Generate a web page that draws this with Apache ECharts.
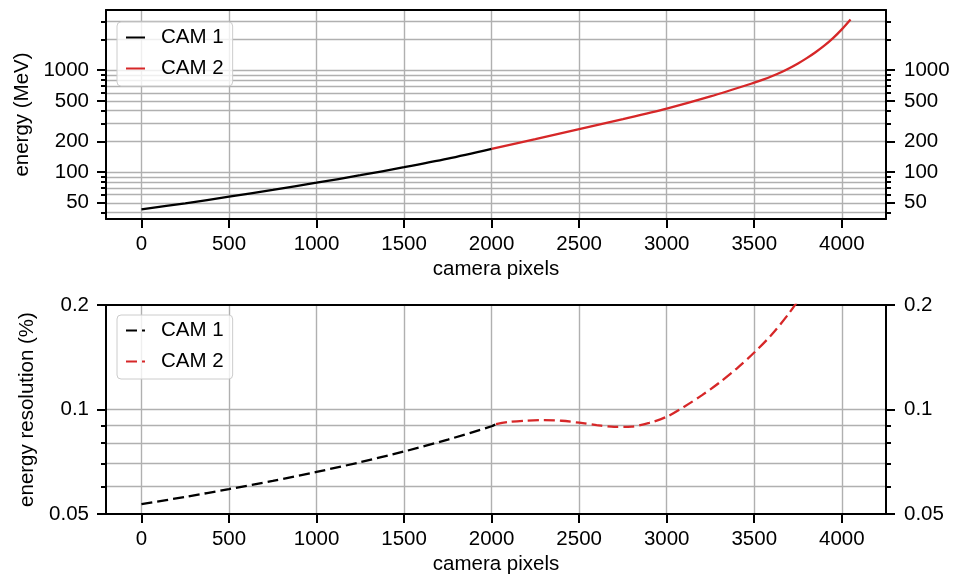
<!DOCTYPE html>
<html><head><meta charset="utf-8">
<script src="https://cdn.jsdelivr.net/npm/echarts@6/dist/echarts.min.js"></script>
<style>html,body{margin:0;padding:0;background:#fff}#c{width:957px;height:583px}</style>
</head><body><div id="c"></div>
<script>
// ---- tick values ----
const xTicks = [0, 500, 1000, 1500, 2000, 2500, 3000, 3500, 4000];
const energyMajor = [50, 100, 200, 500, 1000];
const energyMinor = [40, 60, 70, 80, 90, 300, 400, 600, 700, 800, 900, 2000, 3000];
const energyGrid = [40, 50, 60, 70, 80, 90, 100, 200, 300, 400, 500, 600, 700, 800, 900, 1000, 2000, 3000];
const resMajor = [0.05, 0.1, 0.2];
const resMinor = [0.06, 0.07, 0.08, 0.09];
const resGrid = [0.06, 0.07, 0.08, 0.09, 0.1];

// ---- data ----
const cam1EnergyPx = [0, 250, 500, 750, 1000, 1250, 1500, 1750, 2000];
const cam1Energy   = [43.1, 49.5, 57.4, 67.0, 78.7, 93.3, 111.7, 135.5, 169];
const cam2EnergyPx = [2000, 2250, 2500, 2750, 3000, 3250, 3500, 3550, 3600, 3650, 3700, 3750, 3800, 3850, 3900, 3950, 4000, 4050];
const cam2Energy   = [169, 211, 264, 331, 420, 553, 753, 807, 871, 948, 1045, 1164, 1312, 1500, 1738, 2061, 2512, 3140];

const cam1ResPx = [0, 250, 500, 750, 1000, 1250, 1500, 1750, 2000, 2025];
const cam1Res   = [0.0534, 0.0560, 0.0590, 0.0623, 0.0661, 0.0705, 0.0757, 0.0819, 0.0895, 0.0908];
const cam2ResPx = [2025, 2100, 2200, 2300, 2400, 2500, 2600, 2700, 2800, 2900, 3000, 3100, 3200, 3300, 3400, 3500, 3600, 3700, 3800];
const cam2Res   = [0.0908, 0.0921, 0.0929, 0.0932, 0.0928, 0.0916, 0.0902, 0.0891, 0.0893, 0.0915, 0.0953, 0.1019, 0.1098, 0.1194, 0.1312, 0.1459, 0.1644, 0.1897, 0.2239];

const seriesNames = ['CAM 1', 'CAM 2'];

const FONT = '"Liberation Sans", Arial, Helvetica, sans-serif';
const FS = 20.5;
const BLACK = '#000000';
const RED = '#d62728';
const GRIDC = '#b0b0b0';
const SPINE = 2;
const LW = 2.3;
const DASH = [11, 5];
const zip = (a, b) => a.map((v, i) => [v, b[i]]);

const X_MIN = -202.5, X_MAX = 4252.5;
const E_MIN = 34.7, E_MAX = 3890;
const R_MIN = 0.05, R_MAX = 0.2;

function xAxes(g) {
  return [{
    gridIndex: g, type: 'value', min: X_MIN, max: X_MAX, position: 'bottom',
    axisLine: { show: true, onZero: false, lineStyle: { color: BLACK, width: SPINE } },
    axisTick: { show: true, customValues: xTicks, length: 9, lineStyle: { color: BLACK, width: SPINE } },
    axisLabel: { show: true, customValues: xTicks, fontSize: FS, fontFamily: FONT, color: BLACK, margin: 15,
                 formatter: v => String(v) },
    splitLine: { show: true, lineStyle: { color: GRIDC, width: 1.4 } },
    name: 'camera pixels', nameLocation: 'middle', nameGap: 40,
    nameTextStyle: { fontSize: FS, fontFamily: FONT, color: BLACK }
  }, {
    gridIndex: g, type: 'value', min: X_MIN, max: X_MAX, position: 'top',
    axisLine: { show: true, onZero: false, lineStyle: { color: BLACK, width: SPINE } },
    axisTick: { show: false }, axisLabel: { show: false }, splitLine: { show: false }
  }];
}

function yAxes(g, mn, mx, major, minor, gridVals, name, nameGap) {
  const base = { gridIndex: g, type: 'log', logBase: 10, min: mn, max: mx };
  const lbl = { fontSize: FS, fontFamily: FONT, color: BLACK, formatter: v => String(+(+v).toPrecision(6)) };
  return [
    Object.assign({}, base, {
      position: 'left',
      axisLine: { show: true, onZero: false, lineStyle: { color: BLACK, width: SPINE } },
      axisTick: { show: true, customValues: major, length: 9, lineStyle: { color: BLACK, width: SPINE } },
      axisLabel: Object.assign({ show: true, customValues: major, margin: 17 }, lbl),
      splitLine: { show: false },
      name: name, nameLocation: 'middle', nameGap: nameGap,
      nameTextStyle: { fontSize: FS, fontFamily: FONT, color: BLACK }
    }),
    Object.assign({}, base, {
      position: 'left',
      axisLine: { show: false, onZero: false },
      axisTick: { show: true, customValues: minor, length: 5, lineStyle: { color: BLACK, width: SPINE } },
      axisLabel: { show: false }, splitLine: { show: false }
    }),
    Object.assign({}, base, {
      position: 'right',
      axisLine: { show: true, onZero: false, lineStyle: { color: BLACK, width: SPINE } },
      axisTick: { show: true, customValues: major, length: 9, lineStyle: { color: BLACK, width: SPINE } },
      axisLabel: Object.assign({ show: true, customValues: major, margin: 18 }, lbl),
      splitLine: { show: false }
    }),
    Object.assign({}, base, {
      position: 'right',
      axisLine: { show: false, onZero: false },
      axisTick: { show: true, customValues: minor, length: 5, lineStyle: { color: BLACK, width: SPINE } },
      axisLabel: { show: false }, splitLine: { show: false }
    }),
    Object.assign({}, base, {
      position: 'left',
      axisLine: { show: false, onZero: false },
      axisTick: { show: false, customValues: gridVals },
      axisLabel: { show: false },
      splitLine: { show: true, lineStyle: { color: GRIDC, width: 1.4 } }
    })
  ];
}

function legend(top, names) {
  return {
    orient: 'vertical', left: 117, top: top,
    data: names,
    formatter: n => n.replace(' res', ''),
    padding: [5, 9, 7, 8], itemWidth: 19, itemHeight: 14, itemGap: 10,
    itemStyle: { opacity: 0, color: 'rgba(0,0,0,0)', borderWidth: 0 },
    backgroundColor: 'rgba(255,255,255,0.8)', borderColor: '#cccccc', borderWidth: 1, borderRadius: 4,
    textStyle: { fontSize: FS, fontFamily: FONT, color: BLACK, lineHeight: 21, padding: [0, 0, 0, 11] }
  };
}

const chart = echarts.init(document.getElementById('c'), null, { renderer: 'canvas' });
chart.setOption({
  animation: false,
  backgroundColor: '#ffffff',
  grid: [
    { left: 106, width: 780, top: 10, height: 209 },
    { left: 106, width: 780, top: 305, height: 209 }
  ],
  xAxis: [].concat(xAxes(0), xAxes(1)),
  yAxis: [].concat(
    yAxes(0, E_MIN, E_MAX, energyMajor, energyMinor, energyGrid, 'energy (MeV)', 72),
    yAxes(1, R_MIN, R_MAX, resMajor, resMinor, resGrid, 'energy resolution (%)', 68)
  ),
  legend: [
    legend(22, seriesNames),
    legend(315, seriesNames.map(n => n + ' res'))
  ],
  series: [
    { type: 'line', name: seriesNames[0], xAxisIndex: 0, yAxisIndex: 0, data: zip(cam1EnergyPx, cam1Energy),
      symbol: 'none', smooth: 0.3, clip: true, lineStyle: { color: BLACK, width: LW }, itemStyle: { color: BLACK }, z: 5 },
    { type: 'line', name: seriesNames[1], xAxisIndex: 0, yAxisIndex: 0, data: zip(cam2EnergyPx, cam2Energy),
      symbol: 'none', smooth: 0.3, clip: true, lineStyle: { color: RED, width: LW }, itemStyle: { color: RED }, z: 5 },
    { type: 'line', name: seriesNames[0] + ' res', xAxisIndex: 2, yAxisIndex: 5, data: zip(cam1ResPx, cam1Res),
      symbol: 'none', smooth: 0.3, clip: true, lineStyle: { color: BLACK, width: LW, type: DASH }, itemStyle: { color: BLACK }, z: 5 },
    { type: 'line', name: seriesNames[1] + ' res', xAxisIndex: 2, yAxisIndex: 5, data: zip(cam2ResPx, cam2Res),
      symbol: 'none', smooth: 0.3, clip: true, lineStyle: { color: RED, width: LW, type: DASH }, itemStyle: { color: RED }, z: 5 }
  ]
});
</script>
</body></html>
